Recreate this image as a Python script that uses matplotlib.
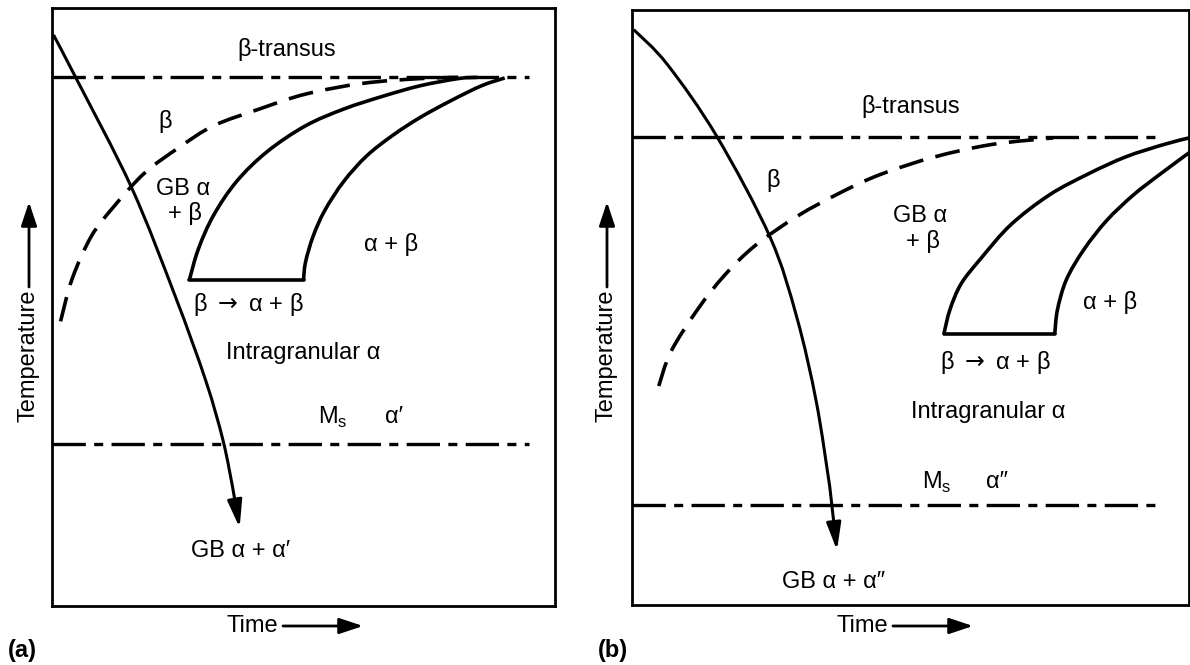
import matplotlib.pyplot as plt
from matplotlib.path import Path
from matplotlib.patches import PathPatch, FancyArrowPatch

plt.rcParams['font.family'] = ['Liberation Sans', 'DejaVu Sans']
plt.rcParams['mathtext.fontset'] = 'custom'
plt.rcParams['mathtext.rm'] = 'Liberation Sans'
plt.rcParams['lines.scale_dashes'] = False

# schematic CCT diagrams, axes units 0..1 (time, temperature)
# ---- panel (a)
a_cool_t = [0.003, 0.047, 0.158, 0.245, 0.306, 0.340, 0.359, 0.373]
a_cool_T = [0.955, 0.884, 0.700, 0.518, 0.376, 0.277, 0.199, 0.131]
a_transus = 0.884
a_ms = 0.271
a_line_end = 0.949
a_gb_t = [0.017, 0.040, 0.078, 0.123, 0.184, 0.253, 0.321, 0.412, 0.504, 0.618, 0.732, 0.808]
a_gb_T = [0.476, 0.547, 0.618, 0.668, 0.724, 0.767, 0.803, 0.831, 0.856, 0.874, 0.882, 0.884]
a_start_t = [0.273, 0.291, 0.321, 0.367, 0.428, 0.504, 0.580, 0.656, 0.732, 0.808, 0.846]
a_start_T = [0.545, 0.597, 0.653, 0.710, 0.760, 0.803, 0.831, 0.852, 0.870, 0.882, 0.884]
a_end_t = [0.500, 0.504, 0.519, 0.542, 0.580, 0.626, 0.679, 0.732, 0.793, 0.854, 0.900]
a_end_T = [0.545, 0.575, 0.618, 0.661, 0.710, 0.753, 0.788, 0.817, 0.845, 0.870, 0.883]
a_labels = [
    ('β-transus', 0.466, 0.930),
    ('β', 0.224, 0.810),
    ('GB α', 0.260, 0.698),
    ('+ β', 0.264, 0.657),
    ('α + β', 0.675, 0.604),
    (r'β $\rightarrow$ α + β', 0.390, 0.504),
    ('Intragranular α', 0.500, 0.423),
    (r'M$_\mathregular{s}$', 0.559, 0.316),
    ('α′', 0.679, 0.316),
    ('GB α + α′', 0.374, 0.092),
]

# ---- panel (b)
b_cool_t = [0.003, 0.063, 0.152, 0.248, 0.296, 0.331, 0.355, 0.368]
b_cool_T = [0.967, 0.909, 0.788, 0.618, 0.483, 0.341, 0.199, 0.092]
b_transus = 0.787
b_ms = 0.168
b_line_end = 0.944
b_gb_t = [0.048, 0.070, 0.118, 0.166, 0.221, 0.296, 0.372, 0.447, 0.543, 0.646, 0.756]
b_gb_T = [0.368, 0.426, 0.497, 0.554, 0.604, 0.653, 0.692, 0.724, 0.753, 0.774, 0.785]
b_start_t = [0.560, 0.571, 0.591, 0.626, 0.680, 0.749, 0.818, 0.886, 0.955, 1.000]
b_start_T = [0.456, 0.497, 0.540, 0.582, 0.639, 0.689, 0.724, 0.753, 0.774, 0.785]
b_end_t = [0.759, 0.764, 0.780, 0.811, 0.852, 0.900, 0.948, 1.000]
b_end_T = [0.456, 0.497, 0.547, 0.597, 0.646, 0.689, 0.724, 0.760]
b_labels = [
    ('β-transus', 0.501, 0.837),
    ('β', 0.254, 0.714),
    ('GB α', 0.517, 0.653),
    ('+ β', 0.523, 0.611),
    ('α + β', 0.859, 0.508),
    (r'β $\rightarrow$ α + β', 0.653, 0.408),
    ('Intragranular α', 0.639, 0.325),
    (r'M$_\mathregular{s}$', 0.547, 0.206),
    ('α″', 0.656, 0.206),
    ('GB α + α″', 0.361, 0.039),
]

dashdot = (0, (24, 6, 6.5, 6))
dashed = (0, (18, 9))
fs = 17


def smooth(t, T):
    # bezier path through the read points (catmull-rom style handles)
    pts = list(zip(t, T))
    verts = [pts[0]]
    codes = [Path.MOVETO]
    n = len(pts)
    for i in range(n - 1):
        p0 = pts[max(i - 1, 0)]
        p1 = pts[i]
        p2 = pts[i + 1]
        p3 = pts[min(i + 2, n - 1)]
        c1 = (p1[0] + (p2[0] - p0[0]) / 6, p1[1] + (p2[1] - p0[1]) / 6)
        c2 = (p2[0] - (p3[0] - p1[0]) / 6, p2[1] - (p3[1] - p1[1]) / 6)
        verts += [c1, c2, p2]
        codes += [Path.CURVE4] * 3
    return Path(verts, codes)


def curve(ax, t, T, lw, ls='-'):
    ax.add_patch(PathPatch(smooth(t, T), fill=False, edgecolor='k', lw=lw,
                           ls=ls, capstyle='butt', joinstyle='round'))


def draw_panel(ax, cool_t, cool_T, transus, ms, line_end,
               gb_t, gb_T, start_t, start_T, end_t, end_T, labels):
    ax.set_xlim(0, 1)
    ax.set_ylim(0, 1)
    ax.set_xticks([])
    ax.set_yticks([])
    for s in ax.spines.values():
        s.set_linewidth(2)
    # transus and Ms lines
    ax.plot([0, line_end], [transus, transus], color='k', lw=2.4, ls=dashdot)
    ax.plot([0, line_end], [ms, ms], color='k', lw=2.4, ls=dashdot)
    # grain boundary alpha start
    curve(ax, gb_t, gb_T, 2.6, dashed)
    # C curves with the flat base
    curve(ax, start_t, start_T, 2.6)
    curve(ax, end_t, end_T, 2.6)
    ax.plot([start_t[0], end_t[0]], [start_T[0], end_T[0]], color='k', lw=2.6,
            solid_capstyle='round')
    # cooling curve with arrow head
    curve(ax, cool_t[:-1], cool_T[:-1], 2.2)
    ax.annotate('', xy=(cool_t[-1], cool_T[-1]), xytext=(cool_t[-2], cool_T[-2]),
                arrowprops=dict(arrowstyle='-|>,head_length=0.75,head_width=0.2',
                                mutation_scale=22, color='k', lw=2.2,
                                shrinkA=0, shrinkB=0))
    for txt, x, y in labels:
        ax.text(x, y, txt, ha='center', va='center', fontsize=fs,
                math_fontfamily='dejavusans' if 'rightarrow' in txt else 'custom')


fig = plt.figure(figsize=(11.9, 6.65), dpi=100)
ax_a = fig.add_axes([52 / 1190, 1 - 606 / 665, 503 / 1190, 598 / 665])
ax_b = fig.add_axes([632 / 1190, 1 - 605 / 665, 557 / 1190, 595 / 665])

draw_panel(ax_a, a_cool_t, a_cool_T, a_transus, a_ms, a_line_end,
           a_gb_t, a_gb_T, a_start_t, a_start_T, a_end_t, a_end_T, a_labels)
draw_panel(ax_b, b_cool_t, b_cool_T, b_transus, b_ms, b_line_end,
           b_gb_t, b_gb_T, b_start_t, b_start_T, b_end_t, b_end_T, b_labels)

# axis names with arrows, figure pixel coordinates turned into fractions
W, H = 1190, 665
arrow_kw = dict(arrowstyle='-|>,head_length=0.9,head_width=0.3',
                mutation_scale=16, color='k', lw=2, shrinkA=0, shrinkB=0)
for x_time, x_temp, x_lab, lab in [(252, 29, 22, '(a)'), (862, 607, 613, '(b)')]:
    fig.text(x_time / W, 1 - 626 / H, 'Time', ha='center', va='center', fontsize=fs)
    fig.add_artist(FancyArrowPatch(
        ((x_time + 31) / W, 1 - 626 / H), ((x_time + 111) / W, 1 - 626 / H),
        transform=fig.transFigure, **arrow_kw))
    fig.text(x_temp / W, 1 - 356 / H, 'Temperature', rotation=90,
             ha='center', va='center', fontsize=fs)
    fig.add_artist(FancyArrowPatch(
        (x_temp / W, 1 - 287 / H), (x_temp / W, 1 - 202 / H),
        transform=fig.transFigure, **arrow_kw))
    fig.text(x_lab / W, 1 - 650 / H, lab, ha='center', va='center',
             fontsize=fs, fontweight='bold')

fig.savefig('out.png', dpi=100)
